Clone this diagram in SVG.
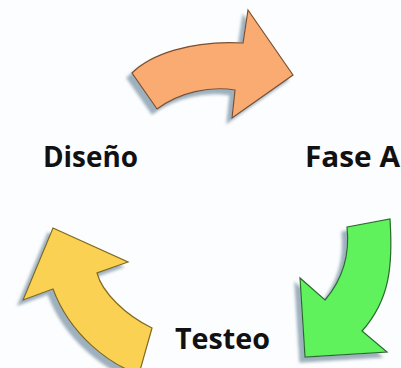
<svg xmlns="http://www.w3.org/2000/svg" width="401" height="368" viewBox="0 0 401 368">
  <style>
    .lbl { font-family: "Open Sans", "Liberation Sans", sans-serif; font-weight: bold; font-size: 29px; fill: #111; }
    .arrow { stroke-width: 1.2; stroke-linejoin: miter; }
  </style>
  <defs>
    <filter id="shadow" x="-20%" y="-20%" width="140%" height="140%">
      <feGaussianBlur in="SourceAlpha" stdDeviation="1.5" result="b"/>
      <feOffset in="b" dx="-5" dy="5" result="o"/>
      <feFlood flood-color="#93a8b6" flood-opacity="0.9"/>
      <feComposite in2="o" operator="in" result="s"/>
      <feMerge>
        <feMergeNode in="s"/>
        <feMergeNode in="SourceGraphic"/>
      </feMerge>
    </filter>
  </defs>
  <rect width="401" height="368" fill="#fcfdfe"/>
  <g id="connectors">
    <path id="arrow-orange" class="arrow" filter="url(#shadow)" fill="#faab72" stroke="#7a5030"
      d="M132,73 C150,55 190,40 243,43 L248,10 L293,75 L232,118 L235,90 C210,86 180,92 157,109 Z"/>
    <path id="arrow-green" class="arrow" filter="url(#shadow)" fill="#5ef25c" stroke="#2a6a2a"
      d="M347,227 L390,219 C393,265 390,300 362,331 L387,352 L305,357 L300,278 L325,300 C342,280 350,255 347,227 Z"/>
    <path id="arrow-yellow" class="arrow" filter="url(#shadow)" fill="#fbd152" stroke="#7f6a20"
      d="M53,228 L128,262 L97,273 C102,292 125,315 152,328 L139,374 C110,365 70,335 53,289 L23,300 Z"/>
  </g>
  <g id="node-diseno"><text class="lbl" x="43" y="167" textLength="95" lengthAdjust="spacingAndGlyphs">Diseño</text></g>
  <g id="node-fase-a"><text class="lbl" x="305" y="167" textLength="95" lengthAdjust="spacingAndGlyphs">Fase A</text></g>
  <g id="node-testeo"><text class="lbl" x="175" y="349" textLength="95" lengthAdjust="spacingAndGlyphs">Testeo</text></g>
</svg>
